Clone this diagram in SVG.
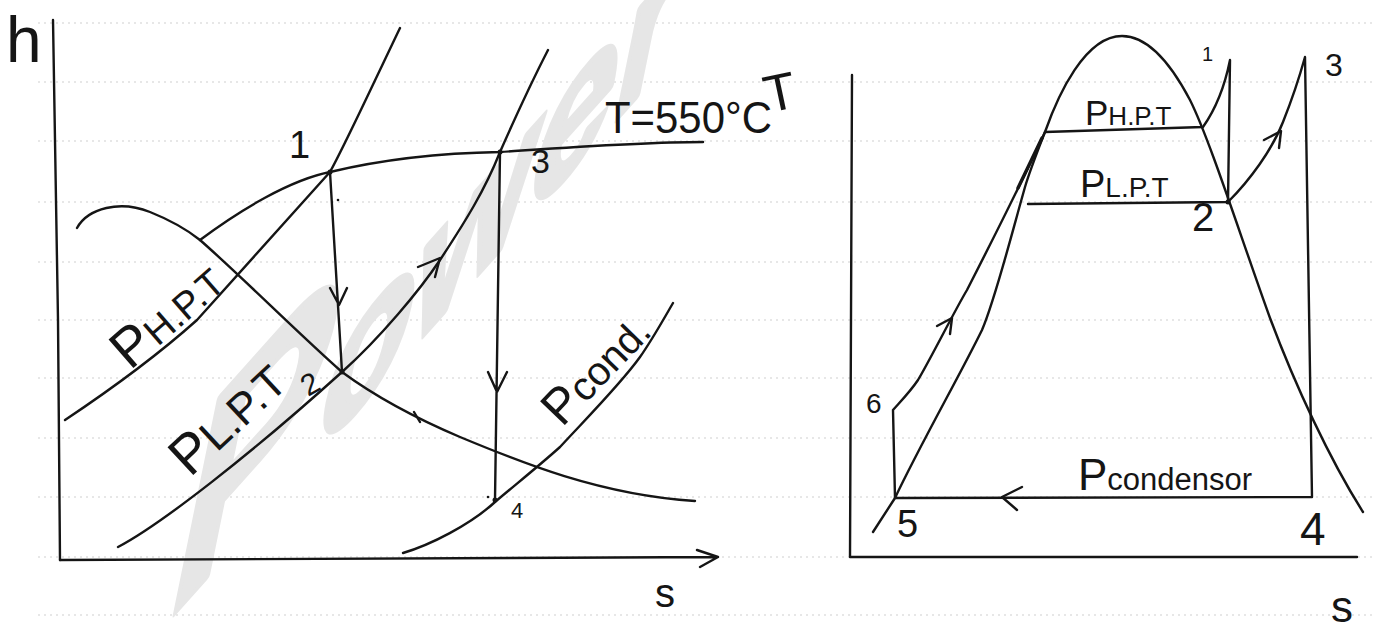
<svg xmlns="http://www.w3.org/2000/svg" width="1386" height="632" viewBox="0 0 1386 632">
<style>
.ln{fill:none;stroke:#151515;stroke-width:2.4;stroke-linecap:round;stroke-linejoin:round}
.rule{stroke:#cfcfcf;stroke-width:1.2;stroke-dasharray:2 4}
.t{font-family:"Liberation Sans",Arial,sans-serif;fill:#151515}
.wm{font-family:"Liberation Sans",Arial,sans-serif;fill:#e6e6e6;stroke:#e6e6e6;stroke-width:7;stroke-linejoin:round;font-weight:bold}
.dot{fill:#151515}
</style>
<rect width="1386" height="632" fill="#ffffff"/>
<g id="ruled-lines">
<line class="rule" x1="38" y1="23" x2="1372" y2="23"/>
<line class="rule" x1="38" y1="82" x2="1372" y2="82"/>
<line class="rule" x1="38" y1="141" x2="1372" y2="141"/>
<line class="rule" x1="38" y1="202" x2="1372" y2="202"/>
<line class="rule" x1="38" y1="262" x2="1372" y2="262"/>
<line class="rule" x1="38" y1="320" x2="1372" y2="320"/>
<line class="rule" x1="38" y1="378" x2="1372" y2="378"/>
<line class="rule" x1="38" y1="438" x2="1372" y2="438"/>
<line class="rule" x1="38" y1="497" x2="1372" y2="497"/>
<line class="rule" x1="38" y1="557" x2="1372" y2="557"/>
<line class="rule" x1="38" y1="615" x2="1372" y2="615"/>
</g>
<g id="watermark">
<text class="wm" transform="matrix(0.707,-0.79,-0.2,0.98,160,630)"><tspan font-size="320">P</tspan><tspan font-size="215">ower</tspan></text>
</g>
<g id="connectors">
<!-- left h-s diagram -->
<path class="ln" d="M53,20 L58,320 L60,560"/>
<path class="ln" d="M60,560 L718,557 M697,550 L718,557 L700,567"/>
<path class="ln" d="M77,228 C88,208 120,200 150,212 C175,222 190,232 200,240 C240,275 300,335 342,372 C380,400 420,420 460,437 C520,462 600,495 695,501"/>
<path class="ln" d="M65,420 C95,400 150,362 197,320 L330,172 C345,145 375,80 400,28"/>
<path class="ln" d="M200,240 C240,210 290,180 330,172 C380,160 440,153 500,152 C560,148 640,142 703,142"/>
<path class="ln" d="M118,547 C160,525 250,455 342,372 C380,338 420,290 440,260 C465,222 485,190 500,152 C515,118 530,85 548,50"/>
<path class="ln" d="M403,553 C430,545 470,525 495,502 C515,485 540,465 560,447 C580,425 620,385 640,357 C652,340 662,322 673,303"/>
<path class="ln" d="M330,172 L342,372 M330,288 L339,305 L347,288"/>
<path class="ln" d="M500,152 L495,500 M488,372 L497,392 L507,372"/>
<path class="ln" d="M418,267 L440,258 L435,277"/>
<path class="ln" d="M414,412 L420,422"/>
<!-- right T-s diagram -->
<path class="ln" d="M852,75 L850,557 L1357,557"/>
<path class="ln" d="M873,532 L895,498 C920,445 960,375 982,330 C995,300 1010,240 1025,187 C1030,170 1038,150 1045,132 C1058,95 1085,36 1122,36 C1148,36 1170,62 1190,100 C1210,140 1240,235 1270,318 C1295,385 1330,460 1363,512"/>
<path class="ln" d="M1045,132 L1203,127 C1215,110 1225,85 1230,60 L1228,202"/>
<path class="ln" d="M1028,204 L1228,202 C1250,180 1272,150 1283,122 C1293,97 1300,75 1305,57 L1312,497 L895,498 L893,410 C900,402 910,392 918,380 C930,360 955,310 967,290 C990,245 1025,175 1045,132"/>
<path class="ln" d="M1022,487 L1002,497 L1017,510"/>
<path class="ln" d="M937,326 L952,318 L950,334"/>
<path class="ln" d="M1264,140 L1281,131 L1279,148"/>
<path class="ln" style="stroke-width:3.4" d="M1018,188 L1042,138"/>
</g>
<g id="hs-axis-labels">
<text class="t" x="6" y="62" font-size="64">h</text>
<text class="t" x="655" y="607" font-size="40">s</text>
</g>
<g id="hs-point-1"><circle class="dot" cx="330" cy="172" r="2.5"/><text class="t" x="289" y="158" font-size="38">1</text></g>
<g id="hs-point-2"><circle class="dot" cx="342" cy="372" r="2.5"/><text class="t" font-size="30" transform="translate(308,397) rotate(-30)">2</text></g>
<g id="hs-point-3"><circle class="dot" cx="500" cy="152" r="2.5"/><text class="t" x="531" y="173" font-size="34">3</text></g>
<g id="hs-point-4"><circle class="dot" cx="495" cy="500" r="2.5"/><circle class="dot" cx="488" cy="497" r="1.3"/><text class="t" x="511" y="518" font-size="22">4</text></g>
<circle class="dot" cx="338" cy="200" r="1.3"/>
<g id="hs-isotherm-label"><text class="t" x="605" y="133" font-size="44" textLength="167" lengthAdjust="spacingAndGlyphs">T=550°C</text></g>
<g id="hs-php-label"><text class="t" transform="translate(130,371) rotate(-41)"><tspan font-size="55">P</tspan><tspan font-size="38">H.P.T</tspan></text></g>
<g id="hs-plp-label"><text class="t" transform="translate(190,478) rotate(-43)"><tspan font-size="55">P</tspan><tspan font-size="44">L.P.T</tspan></text></g>
<g id="hs-pcond-label"><text class="t" transform="translate(562,428) rotate(-46)"><tspan font-size="50">P</tspan><tspan font-size="40">cond.</tspan></text></g>
<g id="ts-axis-labels">
<text class="t" font-size="52" transform="translate(768,113) rotate(-12)">T</text>
<text class="t" x="1331" y="622" font-size="44">s</text>
</g>
<g id="ts-point-1"><text class="t" x="1202" y="61" font-size="20">1</text></g>
<g id="ts-point-2"><circle class="dot" cx="1228" cy="202" r="2.5"/><text class="t" x="1192" y="231" font-size="40">2</text></g>
<g id="ts-point-3"><text class="t" x="1325" y="76" font-size="32">3</text></g>
<g id="ts-point-4"><text class="t" x="1300" y="545" font-size="46">4</text></g>
<g id="ts-point-5"><text class="t" x="897" y="537" font-size="38">5</text></g>
<g id="ts-point-6"><text class="t" x="866" y="413" font-size="28">6</text></g>
<g id="ts-php-label"><text class="t" x="1085" y="125"><tspan font-size="35">P</tspan><tspan font-size="26">H.P.T</tspan></text></g>
<g id="ts-plp-label"><text class="t" x="1080" y="197"><tspan font-size="38">P</tspan><tspan font-size="28">L.P.T</tspan></text></g>
<g id="ts-pcond-label"><text class="t" x="1078" y="490"><tspan font-size="44">P</tspan><tspan font-size="31">condensor</tspan></text></g>
</svg>
